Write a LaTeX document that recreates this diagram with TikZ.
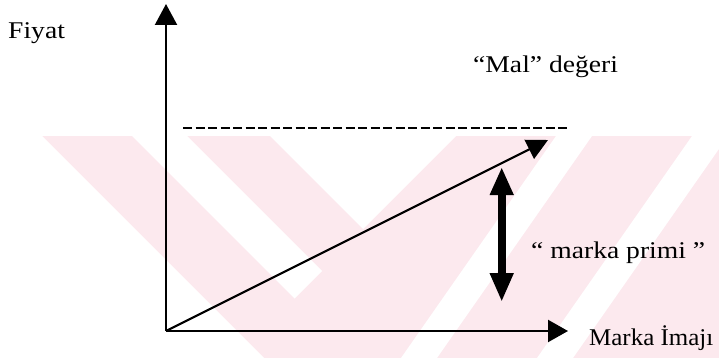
\documentclass[tikz,border=0pt]{standalone}
\usepackage{fontspec}
\setmainfont{Liberation Serif}[FakeStretch=1.15]
\newfontfamily\narrowserif{Liberation Serif}[FakeStretch=1.04]
\usetikzlibrary{arrows.meta}
\definecolor{wmpink}{RGB}{252,233,238}
\tikzset{
  axis/.style={line width=2.2pt},
  lbl/.style={font=\fontsize{24}{28}\selectfont, inner sep=0pt, anchor=base west},
  wm/.style={fill=wmpink, draw=none},
  wmgap/.style={fill=white, draw=none},
}
\begin{document}
\begin{tikzpicture}[x=1pt,y=-1pt]
\useasboundingbox (0,0) rectangle (719,358);
\fill[white] (0,0) rectangle (719,358);
% watermark
\fill[wm] (0,136) rectangle (719,358);
\fill[wmgap] (0,136) -- (42,136) -- (264,358) -- (0,358) -- cycle;
\fill[wmgap] (132,136) -- (187,136) -- (322,271) -- (294.5,298.5) -- cycle;
\fill[wmgap] (270,136) -- (456,136) -- (363,229) -- cycle;
\fill[wmgap] (556,136) -- (592,136) -- (437,358) -- (401,358) -- cycle;
\fill[wmgap] (692,136) -- (728,136) -- (573,358) -- (537,358) -- cycle;
% coordinates
\coordinate (O) at (166,331);
\coordinate (ytip) at (166,4);
\coordinate (xtip) at (568,331);
\coordinate (dtip) at (548,140);
\coordinate (dashL) at (183,128);
\coordinate (dashR) at (569,128);
\coordinate (pTop) at (501.7,167);
\coordinate (pBot) at (501.7,302);
% axes
\draw[axis, -{Triangle[length=21pt,width=22pt]}] (O) -- (ytip);
\draw[axis, -{Triangle[length=20pt,width=22pt]}] (O) -- (xtip);
\draw[axis, -{Triangle[length=21pt,width=21pt]}] (O) -- (dtip);
\draw[line width=2.6pt, dash pattern=on 9pt off 3.5pt] (dashL) -- (dashR);
\draw[line width=8pt, {Triangle[length=28pt,width=22pt]}-{Triangle[length=29pt,width=22pt]}] (pTop) -- (pBot);
% labels
\node[lbl] (fiyat) at (8,39) {Fiyat};
\node[lbl] (mal) at (473,73) {“Mal” değeri};
\node[lbl] (prim) at (531,258) {“ marka primi ”};
\node[lbl, font=\fontsize{24}{28}\selectfont\narrowserif] (imaj) at (589,345) {Marka İmajı};
\end{tikzpicture}
\end{document}
